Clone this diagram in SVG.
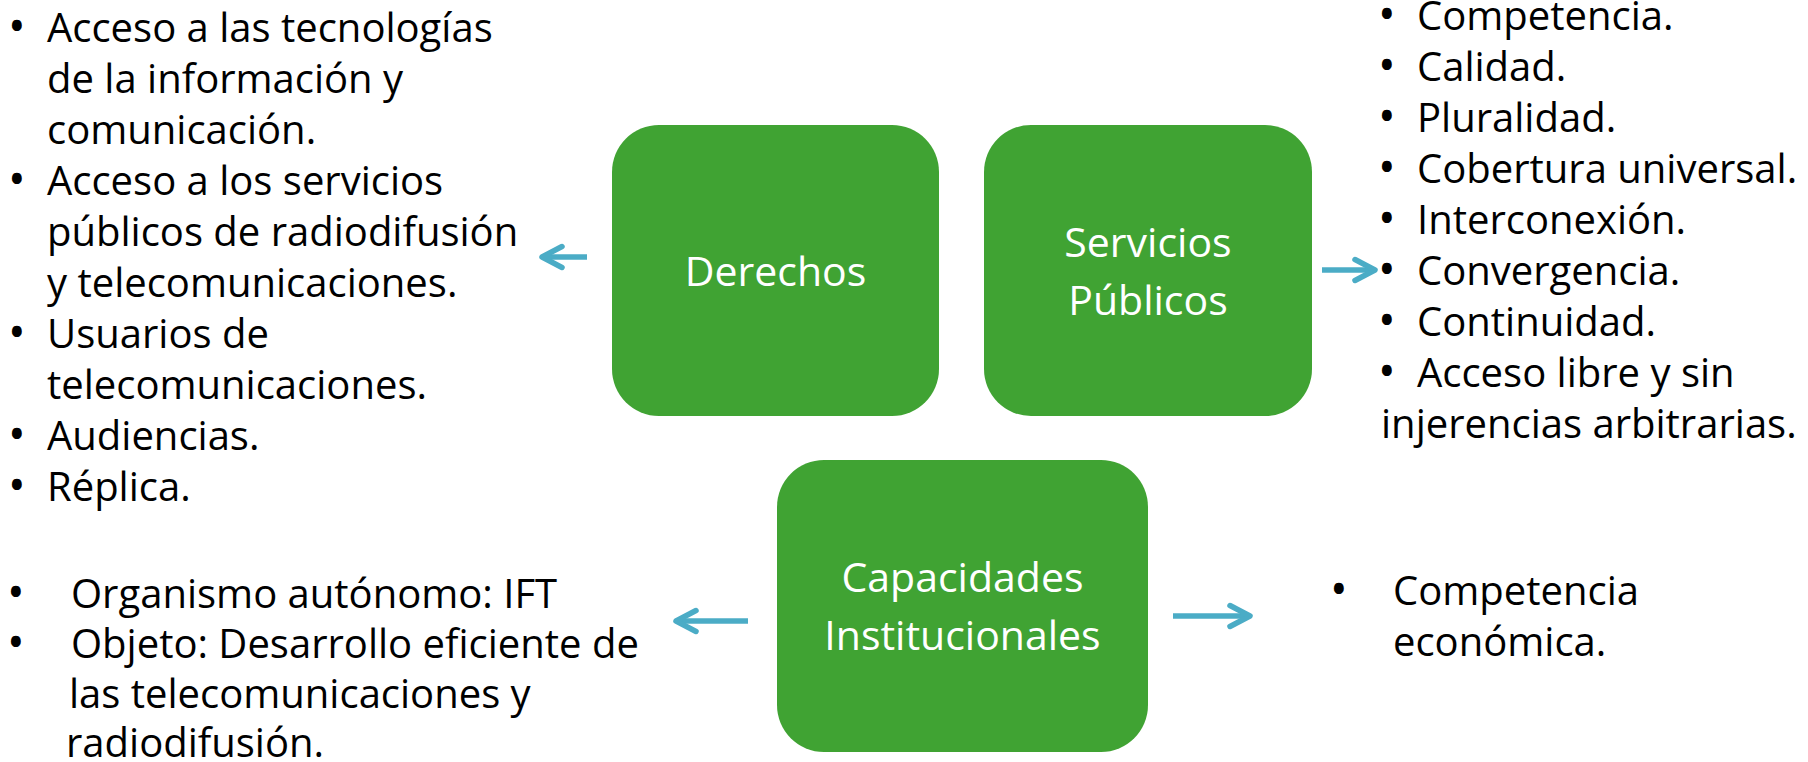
<svg xmlns="http://www.w3.org/2000/svg" width="1808" height="762" viewBox="0 0 1808 762">
<defs>
<marker id="chev" markerUnits="userSpaceOnUse" markerWidth="40" markerHeight="40" viewBox="-30 -20 40 40" refX="0" refY="0" orient="auto">
<path d="M -20 -10.5 L 0 0 L -20 10.5" fill="none" stroke="#4BACC6" stroke-width="5.5" stroke-linecap="round" stroke-linejoin="round"/>
</marker>
</defs>
<style>
.box{fill:#40A333;}
.bt{font-family:"Open Sans","Noto Sans",sans-serif;font-size:41px;fill:#FFFFFF;text-anchor:middle;}
.t{font-family:"Open Sans","Noto Sans",sans-serif;font-size:40px;fill:#000000;}
.b{font-family:"Open Sans","Noto Sans",sans-serif;font-size:47px;fill:#000000;}
.c{stroke:#4BACC6;stroke-width:5.5;fill:none;marker-end:url(#chev);}
</style>
<rect width="1808" height="762" fill="#FFFFFF"/>
<g id="derechos">
<rect class="box" x="612" y="125" width="327" height="291" rx="47" ry="47"/>
<text class="bt" x="775.5" y="286">Derechos</text>
</g>
<g id="servicios">
<rect class="box" x="984" y="125" width="328" height="291" rx="47" ry="47"/>
<text class="bt" x="1148" y="257">Servicios</text>
<text class="bt" x="1148" y="315">Públicos</text>
</g>
<g id="capacidades">
<rect class="box" x="777" y="460" width="371" height="292" rx="47" ry="47"/>
<text class="bt" x="962.5" y="592">Capacidades</text>
<text class="bt" x="962.5" y="650">Institucionales</text>
</g>
<g id="connectors">
<line class="c" x1="587" y1="257" x2="542" y2="257"/>
<line class="c" x1="1322" y1="270" x2="1375" y2="270"/>
<line class="c" x1="748" y1="621" x2="676" y2="621"/>
<line class="c" x1="1173" y1="616" x2="1250" y2="616"/>
</g>
<g id="derechos-list">
<text class="b" x="8" y="43">•</text><text class="t" x="47" y="42">Acceso a las tecnologías</text>
<text class="t" x="47" y="93">de la información y</text>
<text class="t" x="47" y="144">comunicación.</text>
<text class="b" x="8" y="196">•</text><text class="t" x="47" y="195">Acceso a los servicios</text>
<text class="t" x="47" y="246">públicos de radiodifusión</text>
<text class="t" x="47" y="297">y telecomunicaciones.</text>
<text class="b" x="8" y="349">•</text><text class="t" x="47" y="348">Usuarios de</text>
<text class="t" x="47" y="399">telecomunicaciones.</text>
<text class="b" x="8" y="451">•</text><text class="t" x="47" y="450">Audiencias.</text>
<text class="b" x="8" y="502">•</text><text class="t" x="47" y="501">Réplica.</text>
</g>
<g id="servicios-list">
<text class="b" x="1378" y="31">•</text><text class="t" x="1417" y="30">Competencia.</text>
<text class="b" x="1378" y="82">•</text><text class="t" x="1417" y="81">Calidad.</text>
<text class="b" x="1378" y="133">•</text><text class="t" x="1417" y="132">Pluralidad.</text>
<text class="b" x="1378" y="184">•</text><text class="t" x="1417" y="183">Cobertura universal.</text>
<text class="b" x="1378" y="235">•</text><text class="t" x="1417" y="234">Interconexión.</text>
<text class="b" x="1378" y="286">•</text><text class="t" x="1417" y="285">Convergencia.</text>
<text class="b" x="1378" y="337">•</text><text class="t" x="1417" y="336">Continuidad.</text>
<text class="b" x="1378" y="388">•</text><text class="t" x="1417" y="387">Acceso libre y sin</text>
<text class="t" x="1381" y="438">injerencias arbitrarias.</text>
</g>
<g id="capacidades-left-list">
<text class="b" x="7" y="609">•</text><text class="t" x="71" y="608">Organismo autónomo: IFT</text>
<text class="b" x="7" y="659">•</text><text class="t" x="71" y="658">Objeto: Desarrollo eficiente de</text>
<text class="t" x="69" y="708">las telecomunicaciones y</text>
<text class="t" x="66" y="757">radiodifusión.</text>
</g>
<g id="capacidades-right-list">
<text class="b" x="1330" y="606">•</text><text class="t" x="1393" y="605">Competencia</text>
<text class="t" x="1393" y="656">económica.</text>
</g>
</svg>
